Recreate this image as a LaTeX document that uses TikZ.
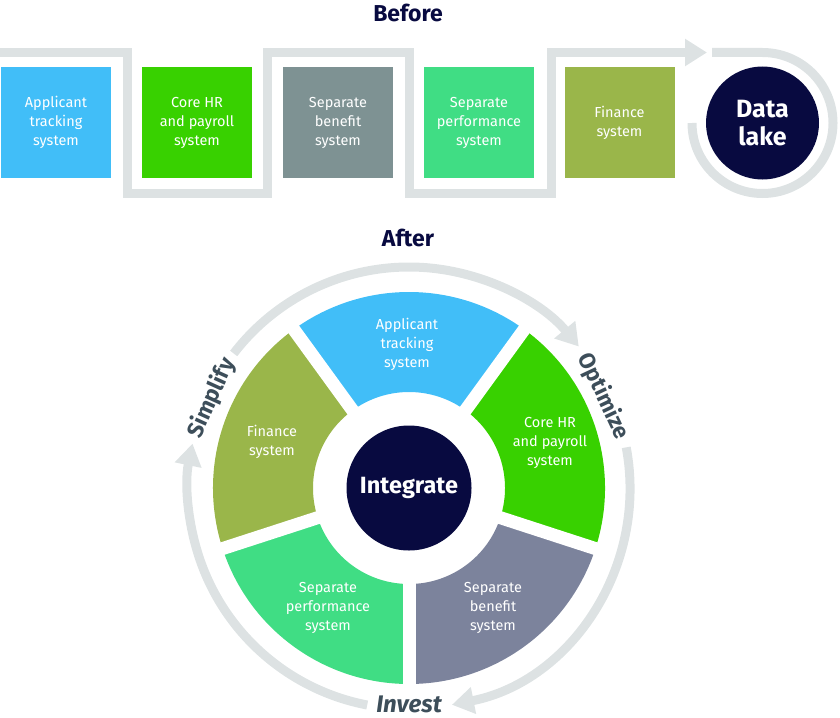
\documentclass[tikz,border=0pt]{standalone}
\usepackage{fontspec}
\setmainfont{Fira Sans}
\usetikzlibrary{arrows.meta}
\definecolor{cblue}{HTML}{41BEF8}
\definecolor{cgreen}{HTML}{38D100}
\definecolor{cgrayb}{HTML}{7E9293}
\definecolor{cmint}{HTML}{40DD84}
\definecolor{colive}{HTML}{9AB64A}
\definecolor{cslate}{HTML}{7C839C}
\definecolor{navy}{HTML}{080A40}
\definecolor{bandgray}{HTML}{DDE2E3}
\definecolor{lblgray}{HTML}{3D4E5A}
\begin{document}
\begin{tikzpicture}[x=1pt,y=1pt,
  sysbox/.style={minimum width=110pt, minimum height=111pt, inner sep=0pt, text=white, align=center, font=\fontsize{14.5}{19}\selectfont},
  segtext/.style={text=white, align=center, inner sep=0pt, font=\fontsize{14.5}{19}\selectfont},
  band/.style={draw=bandgray, line width=9pt},
  arr/.style={-{Triangle[length=22pt,width=26pt]}},
  title/.style={text=navy, font=\fontsize{23}{23}\selectfont\bfseries},
  lbl/.style={text=lblgray, inner sep=0pt, font=\fontsize{22.5}{22.5}\selectfont\bfseries},
  hub/.style={circle, fill=navy, text=white, align=center, inner sep=0pt}
]
\useasboundingbox (0,0) rectangle (840,-717);

% ---------- Before ----------
\node[title] (before) at (408,-13) {Before};

\draw[band, arr, line join=miter] (0,-52.5) -- (127.5,-52.5) -- (127.5,-193.5) -- (267.5,-193.5) -- (267.5,-52.5)
  -- (409,-52.5) -- (409,-193.5) -- (551,-193.5) -- (551,-52.5) -- (707,-52.5);
\draw[band] (712,-52.5) -- (762.5,-52.5) arc[start angle=90, end angle=-180, radius=70.5];

\node[sysbox, fill=cblue]  (b1) at (56,-122.5) {Applicant\\tracking\\system};
\node[sysbox, fill=cgreen] (b2) at (197,-122.5) {Core HR\\and payroll\\system};
\node[sysbox, fill=cgrayb] (b3) at (338,-122.5) {Separate\\benefit\\system};
\node[sysbox, fill=cmint]  (b4) at (479,-122.5) {Separate\\performance\\system};
\node[sysbox, fill=colive] (b5) at (619.5,-122.5) {Finance\\system};
\node[hub, minimum size=113pt, font=\fontsize{25}{28}\selectfont\bfseries] (lake) at (762.5,-123) {Data\\lake};

% ---------- After ----------
\node[title] (after) at (408,-238) {After};

\begin{scope}[shift={(409,-488)}]
  \foreach \c/\col in {90/cblue, 18/cgreen, -54/cslate, -126/cmint, 162/colive}{
    \fill[\col] (\c-36:196) arc[start angle=\c-36, end angle=\c+36, radius=196]
      -- (\c+36:96) arc[start angle=\c+36, end angle=\c-36, radius=96] -- cycle;
  }
  \foreach \a in {54,126,198,270,342}{
    \draw[white, line width=13pt] (\a:85) -- (\a:205);
  }
  \node[hub, minimum size=125pt, font=\fontsize{23.5}{23.5}\selectfont\bfseries] (integrate) at (0,0) {Integrate};

  \draw[band, arr] (142.5:221) arc[start angle=142.5, end angle=39.8, radius=221];
  \draw[band, arr] (10.6:221) arc[start angle=10.6, end angle=-78.8, radius=221];
  \draw[band, arr] (259.1:221) arc[start angle=259.1, end angle=168.4, radius=221];

  \node[lbl, rotate=65.5] (simplify) at (155.5:217) {Simplify};
  \node[lbl, rotate=-64.8] (optimize) at (25.2:215) {Optimize};
  \node[lbl, font=\fontsize{24}{24}\selectfont\bfseries\itshape] (invest) at (-90:216) {Invest};
\end{scope}

\node[segtext] (s1) at (407,-344) {Applicant\\tracking\\system};
\node[segtext] (s2) at (550,-443) {Core HR\\and payroll\\system};
\node[segtext] (s3) at (493,-608) {Separate\\benefit\\system};
\node[segtext] (s4) at (328,-608) {Separate\\performance\\system};
\node[segtext] (s5) at (272,-442) {Finance\\system};
\end{tikzpicture}
\end{document}
